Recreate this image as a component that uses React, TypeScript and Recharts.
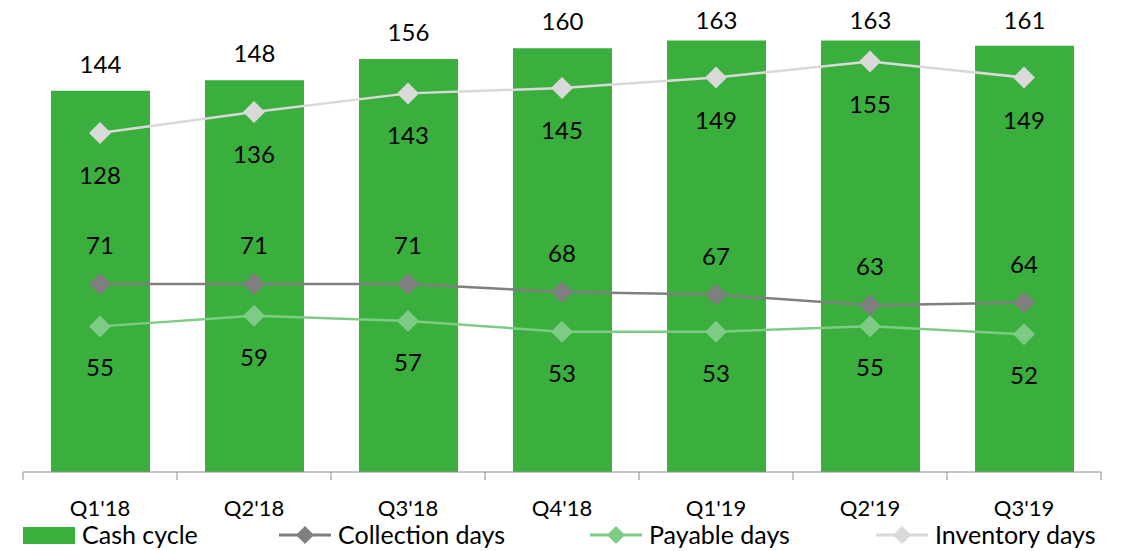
import { ComposedChart, Bar, Line, XAxis, YAxis, LabelList, Legend } from "recharts";

const quarters = ["Q1'18", "Q2'18", "Q3'18", "Q4'18", "Q1'19", "Q2'19", "Q3'19"];
const cashCycle = [144, 148, 156, 160, 163, 163, 161];
const collectionDays = [71, 71, 71, 68, 67, 63, 64];
const payableDays = [55, 59, 57, 53, 53, 55, 52];
const inventoryDays = [128, 136, 143, 145, 149, 155, 149];

const W = 1130;
const H = 551;
const MARGIN = { top: 6, right: 29, left: 23, bottom: 0 };
const BAND = (W - MARGIN.left - MARGIN.right) / quarters.length;
const FONT = "Lato, 'Open Sans', sans-serif";

const GREEN = "#3BAF3D";
const GREY = "#7F7F7F";
const LIGHT_GREEN = "#7DCB85";
const LIGHT_GREY = "#D9D9D9";
const AXIS = "#8C8C8C";

const data = quarters.map((q, i) => ({
  quarter: q,
  cash: cashCycle[i],
  collection: collectionDays[i],
  payable: payableDays[i],
  inventory: inventoryDays[i],
}));

const diamond = (color: string, r = 11) => (props: any) => {
  const { cx, cy, index } = props;
  if (cx == null || cy == null) return <g key={index} />;
  return (
    <polygon
      key={index}
      points={`${cx},${cy - r} ${cx + r},${cy} ${cx},${cy + r} ${cx - r},${cy}`}
      fill={color}
    />
  );
};

function QuarterTick(props: any) {
  const { x, y, payload, index } = props;
  const half = BAND / 2;
  return (
    <g>
      <line x1={x - half} y1={y} x2={x - half} y2={y + 8} stroke={AXIS} />
      {index === quarters.length - 1 && (
        <line x1={x + half} y1={y} x2={x + half} y2={y + 8} stroke={AXIS} />
      )}
      <text x={x} y={y + 44} textAnchor="middle" fontSize={22} fill="#000" fontFamily={FONT}>
        {payload.value}
      </text>
    </g>
  );
}

// bar value label, kept inside the top of the chart like the original
function BarTopLabel(props: any) {
  const { x, y, width, value } = props;
  const baseline = Math.max(y - 18, 29);
  return (
    <text x={x + width / 2} y={baseline} textAnchor="middle" fontSize={24} fill="#000" fontFamily={FONT}>
      {value}
    </text>
  );
}

const legendItems = [
  { label: "Cash cycle", color: GREEN, type: "rect", x: 23 },
  { label: "Collection days", color: GREY, type: "line", x: 279 },
  { label: "Payable days", color: LIGHT_GREEN, type: "line", x: 590 },
  { label: "Inventory days", color: LIGHT_GREY, type: "line", x: 876 },
];

function LegendContent() {
  return (
    <svg width={W} height={31}>
      {legendItems.map((it) => (
        <g key={it.label}>
          {it.type === "rect" ? (
            <rect x={it.x} y={7} width={52} height={17} fill={it.color} />
          ) : (
            <g>
              <line x1={it.x} y1={15} x2={it.x + 52} y2={15} stroke={it.color} strokeWidth={3} />
              <polygon
                points={`${it.x + 26},${6} ${it.x + 35},${15} ${it.x + 26},${24} ${it.x + 17},${15}`}
                fill={it.color}
              />
            </g>
          )}
          <text x={it.x + 59} y={24} fontSize={25} fill="#000" fontFamily={FONT}>
            {it.label}
          </text>
        </g>
      ))}
    </svg>
  );
}

const labelStyle = { fontSize: 24, fill: "#000", fontFamily: FONT };

export default function App() {
  return (
    <div style={{ position: "absolute", left: 0, top: 0, width: W, height: H, background: "#fff" }}>
      <ComposedChart width={W} height={H} data={data} margin={MARGIN}>
        <XAxis
          dataKey="quarter"
          height={79}
          tickLine={false}
          tickSize={0}
          tickMargin={0}
          axisLine={{ stroke: AXIS }}
          tick={<QuarterTick />}
          interval={0}
        />
        <YAxis hide domain={[0, 176]} />
        <Legend
          verticalAlign="middle"
          wrapperStyle={{ top: 520, left: 0, width: W }}
          content={<LegendContent />}
        />
        <Bar dataKey="cash" name="Cash cycle" fill={GREEN} barSize={99} isAnimationActive={false}>
          <LabelList dataKey="cash" content={<BarTopLabel />} />
        </Bar>
        <Line
          dataKey="inventory"
          name="Inventory days"
          stroke={LIGHT_GREY}
          strokeWidth={2.5}
          dot={diamond(LIGHT_GREY)}
          activeDot={false}
          isAnimationActive={false}
        >
          <LabelList dataKey="inventory" position="bottom" offset={34} style={labelStyle} />
        </Line>
        <Line
          dataKey="collection"
          name="Collection days"
          stroke={GREY}
          strokeWidth={2.5}
          dot={diamond(GREY)}
          activeDot={false}
          isAnimationActive={false}
        >
          <LabelList dataKey="collection" position="top" offset={30} style={labelStyle} />
        </Line>
        <Line
          dataKey="payable"
          name="Payable days"
          stroke={LIGHT_GREEN}
          strokeWidth={2.5}
          dot={diamond(LIGHT_GREEN)}
          activeDot={false}
          isAnimationActive={false}
        >
          <LabelList dataKey="payable" position="bottom" offset={33} style={labelStyle} />
        </Line>
      </ComposedChart>
    </div>
  );
}
